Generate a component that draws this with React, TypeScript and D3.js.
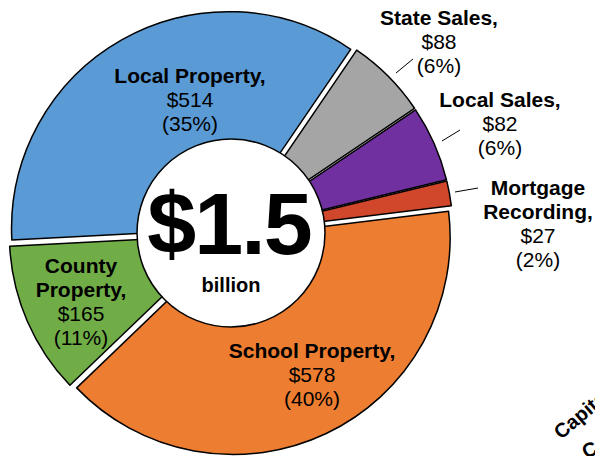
import { useEffect, useRef } from "react";
import * as d3 from "d3";

// revenue by source, $ millions
const categories = ["Local Property", "State Sales", "Local Sales", "Mortgage Recording", "School Property", "County Property"];
const values = [514, 88, 82, 27, 578, 165];
const shares = ["35%", "6%", "6%", "2%", "40%", "11%"];
const colors = ["#5B9BD5", "#A5A5A5", "#7030A0", "#D1472B", "#ED7D31", "#70AD47"];

// label lines (name split over lines), anchor and leader line per slice
const labelLines = [
    ["Local Property,"],
    ["State Sales,"],
    ["Local Sales,"],
    ["Mortgage", "Recording,"],
    ["School Property,"],
    ["County", "Property,"],
];
const labelPos = [
    [190, 83],
    [439, 25],
    [500, 107],
    [538, 195],
    [312, 358],
    [81, 273],
];
const leaders = [
    null,
    [[396, 73], [413, 59]],
    [[442, 141], [460, 130]],
    [[455, 192], [478, 188]],
    null,
    null,
];

const App = () => {
    const chartRef = useRef<SVGSVGElement>(null);

    useEffect(() => {
        const svg = d3.select(chartRef.current);
        svg.selectAll("*").remove();

        const width = 595;
        const height = 456;
        const cx = 231;
        const cy = 233;
        const outerR = 217;
        const holeR = 94;
        const explode = 5;
        const font = "'Liberation Sans', Arial, sans-serif";

        svg.attr("width", width).attr("height", height);

        const start = (-93 * Math.PI) / 180;
        const pie = d3
            .pie<number>()
            .sort(null)
            .value((d) => d)
            .startAngle(start)
            .endAngle(start + 2 * Math.PI);
        const arcs = pie(values);

        const arc = d3.arc<d3.PieArcDatum<number>>().innerRadius(0).outerRadius(outerR);

        const g = svg.append("g").attr("transform", `translate(${cx},${cy})`);

        // exploded slices
        g.selectAll("path.slice")
            .data(arcs)
            .join("path")
            .attr("class", "slice")
            .attr("d", arc)
            .attr("fill", (d, i) => colors[i])
            .attr("stroke", "#000")
            .attr("stroke-width", 1.5)
            .attr("stroke-linejoin", "round")
            .attr("transform", (d) => {
                const a = (d.startAngle + d.endAngle) / 2;
                return `translate(${explode * Math.sin(a)},${-explode * Math.cos(a)})`;
            });

        // center hole
        g.append("circle")
            .attr("r", holeR)
            .attr("fill", "#fff")
            .attr("stroke", "#000")
            .attr("stroke-width", 1.5);

        g.append("text")
            .attr("x", -2)
            .attr("y", 21)
            .attr("text-anchor", "middle")
            .attr("font-family", font)
            .attr("font-weight", "bold")
            .attr("font-size", 88)
            .attr("letter-spacing", -2)
            .text("$1.5");

        g.append("text")
            .attr("x", 0)
            .attr("y", 59)
            .attr("text-anchor", "middle")
            .attr("font-family", font)
            .attr("font-weight", "bold")
            .attr("font-size", 20)
            .text("billion");

        // leader lines
        leaders.forEach((l) => {
            if (!l) return;
            svg.append("line")
                .attr("x1", l[0][0])
                .attr("y1", l[0][1])
                .attr("x2", l[1][0])
                .attr("y2", l[1][1])
                .attr("stroke", "#000")
                .attr("stroke-width", 1);
        });

        // data labels
        categories.forEach((c, i) => {
            const [x, y] = labelPos[i];
            const t = svg
                .append("text")
                .attr("text-anchor", "middle")
                .attr("font-family", font)
                .attr("font-size", 21)
                .attr("fill", "#000");
            const lines = labelLines[i];
            lines.forEach((ln, k) => {
                t.append("tspan")
                    .attr("x", x)
                    .attr("y", y + k * 24)
                    .attr("font-weight", "bold")
                    .text(ln);
            });
            t.append("tspan")
                .attr("x", x)
                .attr("y", y + lines.length * 24)
                .text(`$${values[i]}`);
            t.append("tspan")
                .attr("x", x)
                .attr("y", y + (lines.length + 1) * 24)
                .text(`(${shares[i]})`);
        });

        // neighbouring chart's label, cut off at the edge as in the source
        svg.append("text")
            .attr("transform", "translate(561,440) rotate(-40)")
            .attr("font-family", font)
            .attr("font-weight", "bold")
            .attr("font-size", 20)
            .text("Capital");
        svg.append("text")
            .attr("transform", "translate(586,459) rotate(-25)")
            .attr("font-family", font)
            .attr("font-weight", "bold")
            .attr("font-size", 20)
            .text("Costs");
    }, []);

    return (
        <div style={{ position: "absolute", left: 0, top: 0 }}>
            <svg ref={chartRef} style={{ display: "block" }}></svg>
        </div>
    );
};

export default App;
